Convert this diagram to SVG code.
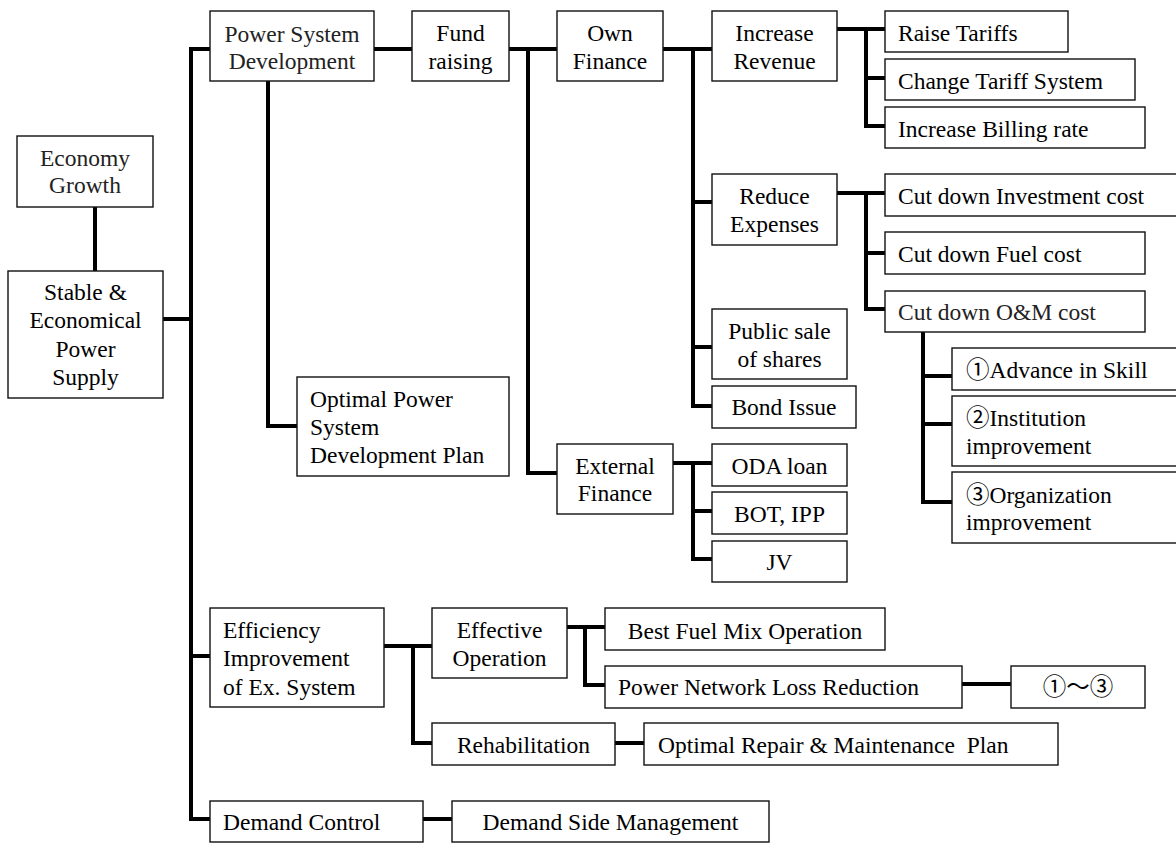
<svg xmlns="http://www.w3.org/2000/svg" width="1176" height="843" viewBox="0 0 1176 843">
<style>
.b{fill:#fff;stroke:#111;stroke-width:1.4}
text{font-family:"Liberation Serif","Times New Roman","Noto Sans CJK JP",serif;font-size:23.5px;fill:#000}
.c{text-anchor:middle}
.g{fill:#222}
.k{fill:none;stroke:#000;stroke-width:4;stroke-linejoin:miter}
</style>
<rect width="1176" height="843" fill="#fff"/>
<g id="connectors" class="k">
<path d="M95,207V271"/>
<path d="M163,319H191"/>
<path d="M210,49H191V819H210"/>
<path d="M191,656H210"/>
<path d="M374,49H412"/>
<path d="M268,81V426H297"/>
<path d="M509,49H557"/>
<path d="M528,49V473H557"/>
<path d="M663,49H712"/>
<path d="M693,49V406H712"/>
<path d="M693,202H712"/>
<path d="M693,347H712"/>
<path d="M673,463H712"/>
<path d="M693,463V559H712"/>
<path d="M693,511H712"/>
<path d="M837,29H885"/>
<path d="M866,29V126H885"/>
<path d="M866,78H885"/>
<path d="M837,193H885"/>
<path d="M866,193V309H885"/>
<path d="M866,253H885"/>
<path d="M923,332V502H952"/>
<path d="M923,376H952"/>
<path d="M923,424H952"/>
<path d="M384,646H432"/>
<path d="M413,646V743H432"/>
<path d="M567,627H605"/>
<path d="M585,627V685H605"/>
<path d="M962,684H1011"/>
<path d="M615,743H644"/>
<path d="M423,819H452"/>
</g>
<g id="economy"><rect class="b" x="17" y="136" width="136" height="71"/><text class="c g" x="85" y="166">Economy</text><text class="c g" x="85" y="193">Growth</text></g>
<g id="stable"><rect class="b" x="8" y="271" width="155" height="127"/><text class="c" x="85.5" y="300">Stable &amp;</text><text class="c" x="85.5" y="328">Economical</text><text class="c" x="85.5" y="356.5">Power</text><text class="c" x="85.5" y="384.5">Supply</text></g>
<g id="psd"><rect class="b" x="210" y="11" width="164" height="70"/><text class="c g" x="292" y="41.5">Power System</text><text class="c g" x="292" y="68.5">Development</text></g>
<g id="optimal"><rect class="b" x="297" y="377" width="212" height="99"/><text x="310" y="406.5">Optimal Power</text><text x="310" y="435">System</text><text x="310" y="463">Development Plan</text></g>
<g id="fund"><rect class="b" x="412" y="11" width="97" height="70"/><text class="c" x="460.5" y="41">Fund</text><text class="c" x="460.5" y="68.5">raising</text></g>
<g id="own"><rect class="b" x="557" y="11" width="106" height="70"/><text class="c" x="610" y="41">Own</text><text class="c" x="610" y="68.5">Finance</text></g>
<g id="external"><rect class="b" x="557" y="444" width="116" height="70"/><text class="c" x="615" y="473.5">External</text><text class="c" x="615" y="501">Finance</text></g>
<g id="increase"><rect class="b" x="712" y="11" width="125" height="70"/><text class="c" x="774.5" y="41">Increase</text><text class="c" x="774.5" y="68.5">Revenue</text></g>
<g id="reduce"><rect class="b" x="712" y="174" width="125" height="71"/><text class="c" x="774.5" y="204">Reduce</text><text class="c" x="774.5" y="232">Expenses</text></g>
<g id="public"><rect class="b" x="712" y="309" width="135" height="70"/><text class="c" x="779.5" y="338.5">Public sale</text><text class="c" x="779.5" y="366.5">of shares</text></g>
<g id="bond"><rect class="b" x="712" y="386" width="144" height="42"/><text class="c" x="784" y="415">Bond Issue</text></g>
<g id="oda"><rect class="b" x="712" y="444" width="135" height="42"/><text class="c" x="779.5" y="473.5">ODA loan</text></g>
<g id="bot"><rect class="b" x="712" y="492" width="135" height="42"/><text class="c" x="779.5" y="521.5">BOT, IPP</text></g>
<g id="jv"><rect class="b" x="712" y="541" width="135" height="41"/><text class="c" x="779.5" y="569.5">JV</text></g>
<g id="raise"><rect class="b" x="885" y="11" width="183" height="41"/><text x="898" y="40.5">Raise Tariffs</text></g>
<g id="change"><rect class="b" x="885" y="59" width="250" height="41"/><text x="898" y="89">Change Tariff System</text></g>
<g id="billing"><rect class="b" x="885" y="107" width="260" height="41"/><text x="898" y="136.5">Increase Billing rate</text></g>
<g id="invest"><rect class="b" x="885" y="174" width="300" height="42"/><text x="898" y="203.5">Cut down Investment cost</text></g>
<g id="fuel"><rect class="b" x="885" y="232" width="260" height="42"/><text x="898" y="261.5">Cut down Fuel cost</text></g>
<g id="om"><rect class="b" x="885" y="291" width="260" height="41"/><text class="g" x="898" y="320">Cut down O&amp;M cost</text></g>
<g id="skill"><rect class="b" x="952" y="348" width="233" height="42"/><text x="966" y="377.5">①Advance in Skill</text></g>
<g id="institution"><rect class="b" x="952" y="396" width="233" height="70"/><text x="966" y="426">②Institution</text><text x="966" y="453.5">improvement</text></g>
<g id="organization"><rect class="b" x="952" y="472" width="233" height="71"/><text x="966" y="502.5">③Organization</text><text x="966" y="530">improvement</text></g>
<g id="efficiency"><rect class="b" x="210" y="608" width="174" height="99"/><text x="223" y="637.5">Efficiency</text><text x="223" y="666">Improvement</text><text x="223" y="694.5">of Ex. System</text></g>
<g id="effective"><rect class="b" x="432" y="608" width="135" height="70"/><text class="c" x="499.5" y="637.5">Effective</text><text class="c" x="499.5" y="666">Operation</text></g>
<g id="rehab"><rect class="b" x="432" y="723" width="183" height="42"/><text class="c" x="523.5" y="752.5">Rehabilitation</text></g>
<g id="bestfuel"><rect class="b" x="605" y="608" width="280" height="42"/><text class="c" x="745" y="638.5">Best Fuel Mix Operation</text></g>
<g id="netloss"><rect class="b" x="605" y="666" width="357" height="42"/><text x="618" y="695">Power Network Loss Reduction</text></g>
<g id="refs"><rect class="b" x="1011" y="666" width="134" height="42"/><text class="c" x="1078" y="695">①～③</text></g>
<g id="repair"><rect class="b" x="644" y="723" width="414" height="42"/><text x="658" y="752.5" xml:space="preserve">Optimal Repair &amp; Maintenance  Plan</text></g>
<g id="demand"><rect class="b" x="210" y="801" width="213" height="41"/><text x="223" y="829.5">Demand Control</text></g>
<g id="dsm"><rect class="b" x="452" y="801" width="317" height="41"/><text class="c" x="610.5" y="829.5">Demand Side Management</text></g>
</svg>
